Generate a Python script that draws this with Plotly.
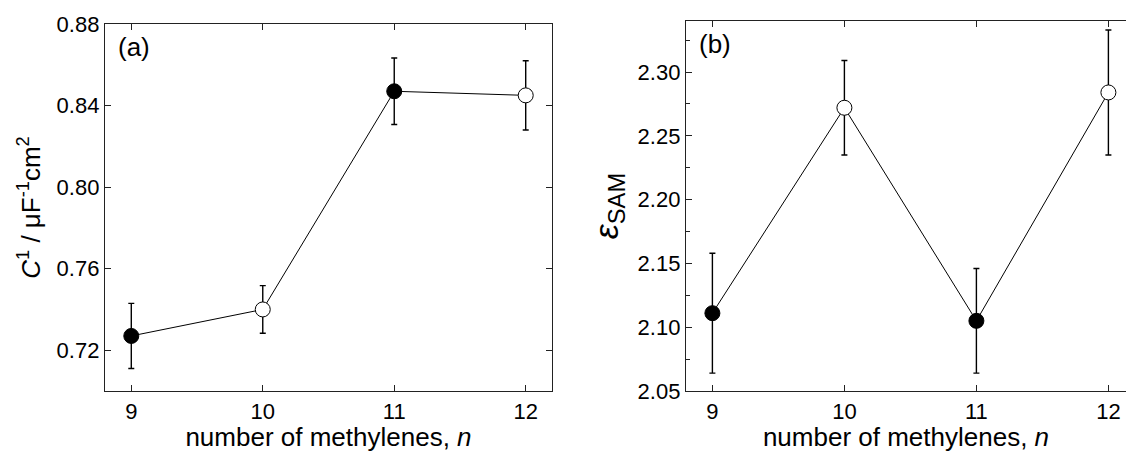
import plotly.graph_objects as go

n = [9, 10, 11, 12]
c_inv = [0.727, 0.740, 0.847, 0.845]
c_err = [0.016, 0.0117, 0.0163, 0.017]
eps = [2.111, 2.272, 2.105, 2.284]
eps_err = [0.047, 0.037, 0.041, 0.049]
marker_fill = ["black", "white", "black", "white"]

FONT = "Liberation Sans, Arial, sans-serif"
W, H = 1126, 452
ML, MR, MT, MB = 105, 0, 21, 61
PW = W - ML - MR
PH = H - MT - MB

fig = go.Figure()

def add_panel(xa, ya, yv, ev):
    fig.add_trace(go.Scatter(x=n, y=yv, mode="lines", line=dict(color="black", width=1),
                             xaxis=xa, yaxis=ya, showlegend=False, hoverinfo="skip"))
    fig.add_trace(go.Scatter(x=n, y=yv, mode="markers",
                             error_y=dict(type="data", array=ev, color="black", thickness=1.4, width=3),
                             marker=dict(size=15, color=marker_fill, line=dict(color="black", width=1)),
                             xaxis=xa, yaxis=ya, showlegend=False))

add_panel("x", "y", c_inv, c_err)
add_panel("x2", "y2", eps, eps_err)

axis_common = dict(showline=True, linecolor="#222", linewidth=1.3, ticks="inside", ticklen=6,
                   tickwidth=1.2, tickcolor="#222", showgrid=False, zeroline=False,
                   tickfont=dict(family=FONT, size=22, color="black"))

x1_right = 552
x2_left = 686
fig.update_layout(
    width=W, height=H, margin=dict(l=ML, r=MR, t=MT, b=MB),
    paper_bgcolor="white", plot_bgcolor="white",
    xaxis=dict(domain=[0, (x1_right - ML) / PW], range=[8.8, 12.2], tickvals=n, mirror="ticks",
               anchor="y",
               title=dict(text="number of methylenes, <i>n</i>", font=dict(family=FONT, size=26, color="black"), standoff=2),
               **axis_common),
    yaxis=dict(domain=[0, (391 - 24) / PH], range=[0.70, 0.88], tickvals=[0.72, 0.76, 0.80, 0.84, 0.88],
               tickformat=".2f", mirror="ticks", anchor="x",
               title=dict(text="<i>C</i><sup>1</sup> / μF<sup>-1</sup>cm<sup>2</sup>",
                          font=dict(family=FONT, size=26, color="black"), standoff=8),
               **axis_common),
    xaxis2=dict(domain=[(x2_left - ML) / PW, 1], range=[8.8, 8.8 + (W - x2_left) / 132.0], tickvals=n,
                mirror="ticks", anchor="y2",
                title=dict(text="number of methylenes, <i>n</i>", font=dict(family=FONT, size=26, color="black"), standoff=2),
                **axis_common),
    yaxis2=dict(domain=[0, 1], range=[2.05, 2.34], tickvals=[2.05, 2.10, 2.15, 2.20, 2.25, 2.30],
                tickformat=".2f", mirror=False, anchor="x2",
                minor=dict(tickvals=[2.075, 2.125, 2.175, 2.225, 2.275, 2.325], ticks="inside", ticklen=4,
                           tickcolor="#222", tickwidth=1.2),
                title=dict(text="<i>ε</i><sub>SAM</sub>", font=dict(family=FONT, size=34, color="black"), standoff=8),
                **axis_common),
    annotations=[
        dict(text="(a)", x=0.025, y=0.985, xref="x domain", yref="y domain", xanchor="left", yanchor="top",
             showarrow=False, font=dict(family=FONT, size=26, color="black")),
        dict(text="(b)", x=0.025, y=0.985, xref="x2 domain", yref="y2 domain", xanchor="left", yanchor="top",
             showarrow=False, font=dict(family=FONT, size=26, color="black")),
    ],
)

fig.write_html("out.html")
